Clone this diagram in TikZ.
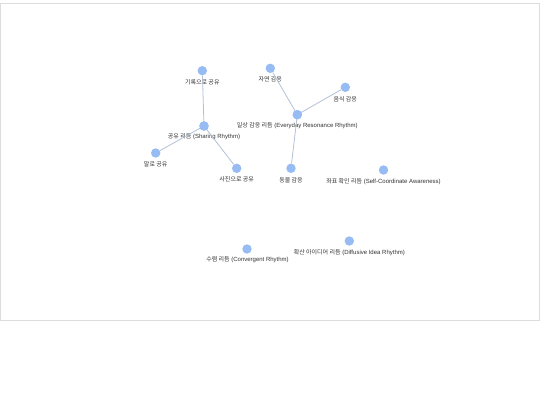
\documentclass[tikz,border=0pt]{standalone}
\usepackage{fontspec}
\setmainfont{Liberation Sans}
\newfontfamily\kr{Noto Sans CJK KR}
\definecolor{nodefill}{HTML}{97BBF3}
\definecolor{edgecol}{HTML}{B2C0D8}
\definecolor{txt}{HTML}{333333}
\definecolor{framecol}{HTML}{DDDDDD}
\begin{document}
\begin{tikzpicture}[x=1pt,y=-1pt,
  dot/.style={circle,fill=nodefill,inner sep=0pt,minimum size=9.4pt},
  lab/.style={inner sep=0pt,text=txt,font=\fontsize{6}{7}\selectfont},
  link/.style={draw=edgecol,line width=0.8pt}]
\useasboundingbox (0,0) rectangle (540,405);
\draw[framecol,line width=1pt] (0.5,3.5) rectangle (539,320);
% nodes
\node[dot] (rec) at (202.3,70.7) {};
\node[lab] (recL) at (202.3,82.3) {\kr 기록으로 공유};
\node[dot] (share) at (204,126) {};
\node[lab] (shareL) at (204,136.7) {{\kr 공유 리듬} (Sharing Rhythm)};
\node[dot] (talk) at (155.7,153) {};
\node[lab] (talkL) at (155.7,164) {\kr 말로 공유};
\node[dot] (photo) at (236.7,168.3) {};
\node[lab] (photoL) at (236.7,179.5) {\kr 사진으로 공유};
\node[dot] (nature) at (270.3,68.3) {};
\node[lab] (natureL) at (270.3,79.5) {\kr 자연 감응};
\node[dot] (food) at (345.3,87.3) {};
\node[lab] (foodL) at (345.3,99) {\kr 음식 감응};
\node[dot] (daily) at (297.3,114.7) {};
\node[lab] (dailyL) at (297.3,125.7) {{\kr 일상 감응 리듬} (Everyday Resonance Rhythm)};
\node[dot] (animal) at (291,168.3) {};
\node[lab] (animalL) at (291,179.8) {\kr 동물 감응};
\node[dot] (coord) at (383.5,170) {};
\node[lab] (coordL) at (383.5,181.5) {{\kr 좌표 확인 리듬} (Self-Coordinate Awareness)};
\node[dot] (conv) at (247,249) {};
\node[lab] (convL) at (247.5,260) {{\kr 수렴 리듬} (Convergent Rhythm)};
\node[dot] (diff) at (349.3,241) {};
\node[lab] (diffL) at (349.3,252.5) {{\kr 확산 아이디어 리듬} (Diffusive Idea Rhythm)};
% edges
\path[link] (share.center) -- (rec);
\path[link] (share.center) -- (talk);
\path[link] (share.center) -- (photo);
\path[link] (daily.center) -- (nature);
\path[link] (daily.center) -- (food);
\path[link] (daily.center) -- (animal);
% redraw hubs on top
\node[dot] at (share) {};
\node[dot] at (daily) {};
\end{tikzpicture}
\end{document}
